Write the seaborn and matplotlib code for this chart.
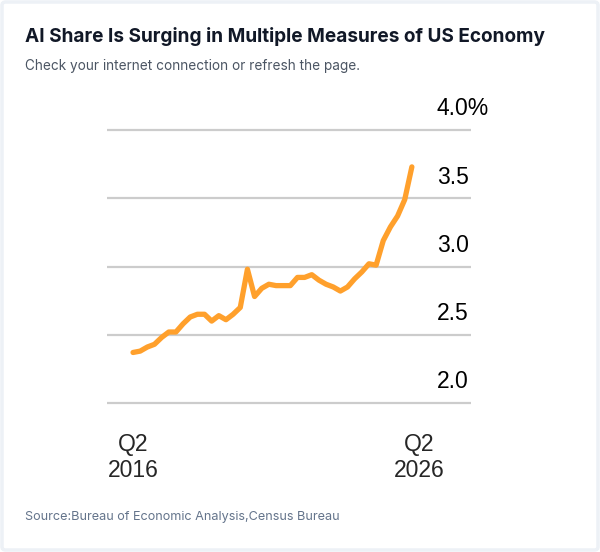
import numpy as np
import pandas as pd
import seaborn as sns
import matplotlib.pyplot as plt
from matplotlib.patches import FancyBboxPatch

# Quarterly series, Q2 2016 .. Q1 2026 (percent)
quarter_idx = list(range(40))
ai_share = [2.37, 2.38, 2.41, 2.43, 2.48, 2.52, 2.52, 2.58, 2.63, 2.65,
            2.65, 2.60, 2.64, 2.61, 2.65, 2.70, 2.98, 2.78, 2.84, 2.87,
            2.86, 2.86, 2.86, 2.92, 2.92, 2.94, 2.90, 2.87, 2.85, 2.82,
            2.85, 2.91, 2.96, 3.02, 3.01, 3.19, 3.29, 3.37, 3.49, 3.73]
x_ticks = [0, 40]
x_tick_labels = ["Q2\n2016", "Q2\n2026"]
y_ticks = [2.0, 2.5, 3.0, 3.5, 4.0]
y_tick_labels = ["2.0", "2.5", "3.0", "3.5", "4.0%"]

title = "AI Share Is Surging in Multiple Measures of US Economy"
subtitle = "Check your internet connection or refresh the page."
source = "Source:Bureau of Economic Analysis,Census Bureau"

df = pd.DataFrame({"quarter": quarter_idx, "share": ai_share})

sns.set_style("white")
plt.rcParams['font.family'] = ['Liberation Sans', 'DejaVu Sans']

W, H = 600, 552
fig = plt.figure(figsize=(W / 100, H / 100), dpi=100)

# light card border
fig.patches.append(FancyBboxPatch((2 / W, 2 / H), 1 - 4 / W, 1 - 4 / H,
                                  boxstyle="round,pad=0,rounding_size=0.006",
                                  transform=fig.transFigure, facecolor="white",
                                  edgecolor="#edf1f6", linewidth=2.5, zorder=-10))

ax = fig.add_axes([107 / W, 1 - 405.7 / H, 364 / W, 278.4 / H])
ax.set_facecolor("none")

for v in y_ticks:
    ax.axhline(v, color="#cccccc", lw=1.6, zorder=1)

sns.lineplot(data=df, x="quarter", y="share", ax=ax, color="#FFA02C",
             lw=3.8, solid_capstyle="round", solid_joinstyle="round", zorder=3)

ax.set_xlim(-3.64, 47.27)
ax.set_ylim(1.98, 4.02)
ax.set_xlabel("")
ax.set_ylabel("")
ax.set_yticks([])
ax.set_xticks(x_ticks)
ax.set_xticklabels(x_tick_labels, fontsize=16.5, linespacing=1.15)
ax.tick_params(axis="x", length=0, pad=20)
for s in ax.spines.values():
    s.set_visible(False)

# value labels sit above each gridline, inside the right edge
for v, lab in zip(y_ticks, y_tick_labels):
    ax.text(42.5, v + 0.155, lab, fontsize=16.5, ha="left", va="center", color="black")

fig.text(25 / W, 1 - 37 / H, title, fontsize=13.7, fontweight="bold",
         family="Inter", color="#111827", va="center", ha="left")
fig.text(25 / W, 1 - 66 / H, subtitle, fontsize=9.8,
         family="Inter", color="#4b5563", va="center", ha="left")
fig.text(25 / W, 1 - 517 / H, source, fontsize=9.1,
         family="Inter", color="#64748b", va="center", ha="left")

fig.savefig("out.png", dpi=100)
